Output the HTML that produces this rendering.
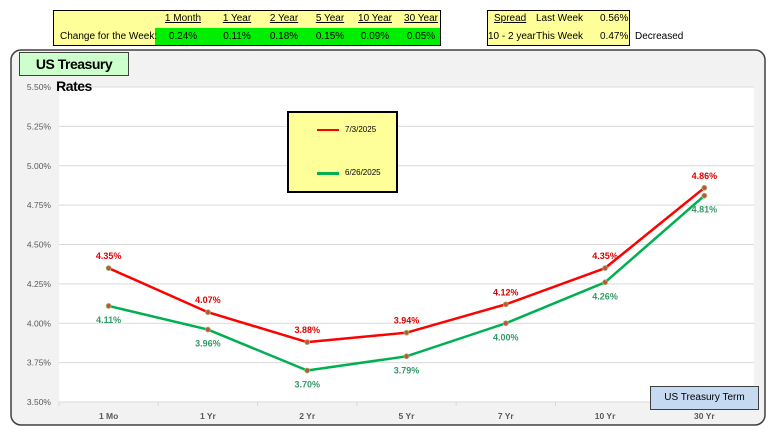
<!DOCTYPE html>
<html><head><meta charset="utf-8"><style>
body{margin:0;width:782px;height:436px;background:#fff;font-family:"Liberation Sans",sans-serif;position:relative;overflow:hidden}
.abs{position:absolute}
.tb{font-size:10px;color:#000}
</style></head><body>
<div class="abs" style="left:53px;top:10px;width:386px;height:34px;background:#ffff99;border:1px solid #000"></div>
<div class="abs" style="left:155px;top:28px;width:285px;height:17px;background:#00ee00"></div>
<div id="tbl"></div>
<div class="abs" style="left:487px;top:10px;width:141px;height:34px;background:#ffff99;border:1px solid #000"></div>
<div class="abs tb" style="left:494px;top:13px;text-decoration:underline">Spread</div>
<div class="abs tb" style="left:536px;top:13px">Last Week</div>
<div class="abs tb" style="left:600px;top:13px">0.56%</div>
<div class="abs tb" style="left:488px;top:31px">10 - 2 year</div>
<div class="abs tb" style="left:536px;top:31px">This Week</div>
<div class="abs tb" style="left:600px;top:31px">0.47%</div>
<div class="abs tb" style="left:635px;top:31px">Decreased</div>
<svg class="abs" style="left:0;top:0" width="782" height="436" id="chart"></svg>
<script>
const cats=["1 Mo","1 Yr","2 Yr","5 Yr","7 Yr","10 Yr","30 Yr"];
const s1=[4.35,4.07,3.88,3.94,4.12,4.35,4.86];
const s2=[4.11,3.96,3.70,3.79,4.00,4.26,4.81];
const yTicks=[3.5,3.75,4.0,4.25,4.5,4.75,5.0,5.25,5.5];
const hdrs=["1 Month","1 Year","2 Year","5 Year","10 Year","30 Year"];
const chg=["0.24%","0.11%","0.18%","0.15%","0.09%","0.05%"];
const hx=[183,237,284,330,375,421];
const tbl=document.getElementById('tbl');
let h='<div class="abs tb" style="left:60px;top:31px">Change for the Week:</div>';
hdrs.forEach((t,i)=>{h+=`<div class="abs tb" style="left:${hx[i]-25}px;width:50px;text-align:center;top:13px;text-decoration:underline">${t}</div><div class="abs tb" style="left:${hx[i]-25}px;width:50px;text-align:center;top:31px">${chg[i]}</div>`});
tbl.innerHTML=h;
const svg=document.getElementById('chart');const NS="http://www.w3.org/2000/svg";
function el(t,a,txt){const e=document.createElementNS(NS,t);for(const k in a)e.setAttribute(k,a[k]);if(txt!==undefined)e.textContent=txt;svg.appendChild(e);return e;}
const x0=59,x1=754,y0=402,y1=87;
const bw=(x1-x0)/cats.length;
const X=i=>x0+bw*(i+0.5);
const Y=v=>y0-(v-3.5)/(5.5-3.5)*(y0-y1);
let p=el('rect',{x:11,y:50,width:754,height:375,rx:10,fill:'#f2f2f2',stroke:'#404040','stroke-width':1.5});

let pa=el('rect',{x:x0,y:y1,width:x1-x0,height:y0-y1,fill:'#fff'});

yTicks.forEach(v=>{let g=el('line',{x1:x0,x2:x1,y1:Y(v),y2:Y(v),stroke:'#d9d9d9','stroke-width':1});

let t=el('text',{x:51,y:Y(v)+3,'font-size':8.5,fill:'#595959','text-anchor':'end'},v.toFixed(2)+'%');
});
cats.forEach((c,i)=>{let tk=el('line',{x1:x0+bw*i,x2:x0+bw*i,y1:y0,y2:y0+4,stroke:'#d9d9d9'});

let t=el('text',{x:X(i),y:419,'font-size':8.5,'font-weight':'bold',fill:'#595959','text-anchor':'middle'},c);
});
function series(d,col,lc,name,above){
let l=el('polyline',{points:d.map((v,i)=>X(i)+','+Y(v)).join(' '),fill:'none',stroke:col,'stroke-width':2.5});

d.forEach((v,i)=>{let c=el('circle',{cx:X(i),cy:Y(v),r:2.5,fill:'#c0504d',stroke:'#9bbb59','stroke-width':0.8});

let t=el('text',{x:X(i),y:above?Y(v)-9:Y(v)+17,'font-size':9,'font-weight':'bold',fill:lc,'text-anchor':'middle'},v.toFixed(2)+'%');
});}
series(s2,'#00b050','#339966','series-6-26-2025',false);
series(s1,'#ff0000','#e00000','series-7-3-2025',true);
</script>
<div class="abs" style="left:19px;top:52px;width:110px;height:24px;background:#ccffcc;border:1px solid #404040;box-sizing:border-box;font-size:14px;font-weight:bold;line-height:22px;text-align:center;letter-spacing:-0.5px">US Treasury Rates</div>
<div class="abs" style="left:287px;top:111px;width:111px;height:82px;background:#ffff99;border:2px solid #000;box-sizing:border-box;font-size:8px">
<div class="abs" style="left:28px;top:16px;width:22px;height:2px;background:#ff0000"></div>
<div class="abs" style="left:56px;top:12px">7/3/2025</div>
<div class="abs" style="left:28px;top:59px;width:22px;height:3px;background:#00b050"></div>
<div class="abs" style="left:56px;top:55px">6/26/2025</div>
</div>
<div class="abs" style="left:650px;top:386px;width:109px;height:24px;background:#c5d9f1;border:1px solid #404040;box-sizing:border-box;font-size:10px;line-height:22px;text-align:center">US Treasury Term</div>
</body></html>
